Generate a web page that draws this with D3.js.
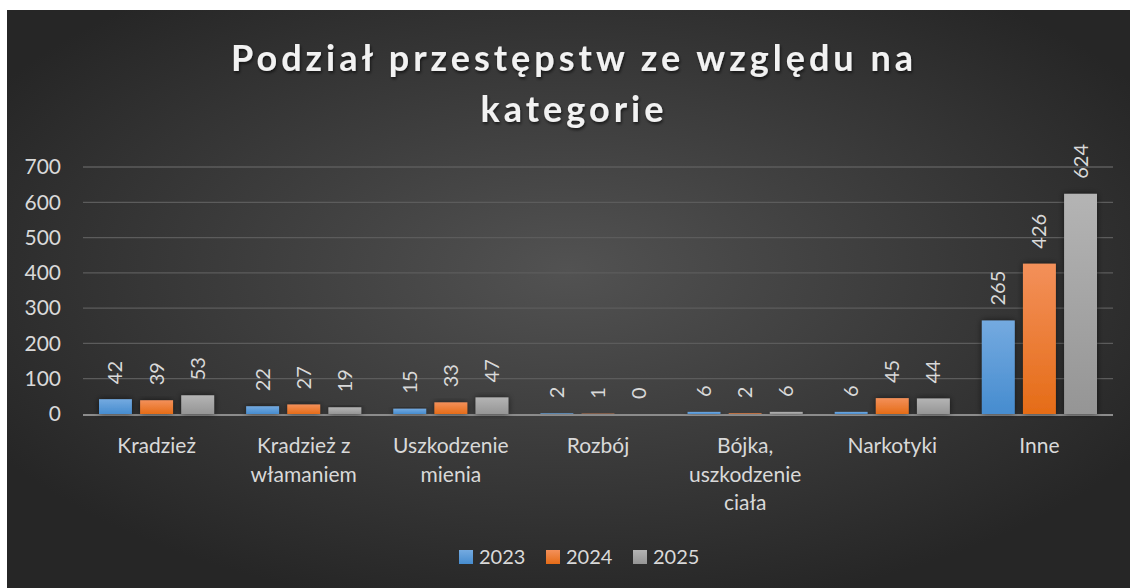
<!DOCTYPE html>
<html>
<head>
<meta charset="utf-8">
<script src="https://cdn.jsdelivr.net/npm/d3@7"></script>
<style>
  body { margin: 0; background: #fff; }
  text { font-family: Lato, "Open Sans", sans-serif; }
</style>
</head>
<body>
<div id="chart"></div>
<script>
// data
categories = ["Kradzież", "Kradzież z włamaniem", "Uszkodzenie mienia", "Rozbój", "Bójka, uszkodzenie ciała", "Narkotyki", "Inne"]
years = ["2023", "2024", "2025"]
v2023 = [42, 22, 15, 2, 6, 6, 265]
v2024 = [39, 27, 33, 1, 2, 45, 426]
v2025 = [53, 19, 47, 0, 6, 44, 624]
yTicks = [0, 100, 200, 300, 400, 500, 600, 700]
titleLines = ["Podział przestępstw ze względu na", "kategorie"]

series = [v2023, v2024, v2025]
colors = [
  {top: "#74aae0", bottom: "#468ccf"},
  {top: "#f3905a", bottom: "#e56c17"},
  {top: "#b4b4b4", bottom: "#959595"}
]

W = 1130, H = 588
margin = {top: 167, right: 17, bottom: 174, left: 83}
width = W - margin.left - margin.right
height = H - margin.top - margin.bottom

svg = d3.select("#chart").append("svg")
  .attr("width", W)
  .attr("height", H)

defs = svg.append("defs")
bg = defs.append("radialGradient").attr("id", "bg")
  .attr("cx", "50%").attr("cy", "45%").attr("r", "60%")
bg.append("stop").attr("offset", "0%").attr("stop-color", "#525252")
bg.append("stop").attr("offset", "100%").attr("stop-color", "#262626")

colors.forEach((c, i) => {
  g = defs.append("linearGradient").attr("id", "bar" + i)
    .attr("x1", 0).attr("y1", 0).attr("x2", 0).attr("y2", 1)
  g.append("stop").attr("offset", "0%").attr("stop-color", c.top)
  g.append("stop").attr("offset", "100%").attr("stop-color", c.bottom)
})

shadow = defs.append("filter").attr("id", "shadow")
  .attr("x", "-30%").attr("y", "-30%").attr("width", "160%").attr("height", "160%")
shadow.append("feDropShadow").attr("dx", 0).attr("dy", 0).attr("stdDeviation", 3)
  .attr("flood-color", "#000").attr("flood-opacity", 0.6)

tshadow = defs.append("filter").attr("id", "tshadow")
tshadow.append("feDropShadow").attr("dx", 1).attr("dy", 2).attr("stdDeviation", 1.5)
  .attr("flood-color", "#000").attr("flood-opacity", 0.6)

// background panel
svg.append("rect")
  .attr("x", 7).attr("y", 10)
  .attr("width", W - 7).attr("height", H - 10)
  .attr("fill", "url(#bg)")

// title
svg.append("g").attr("filter", "url(#tshadow)")
  .selectAll("text")
  .data(titleLines)
  .join("text")
    .attr("x", 574)
    .attr("y", (d, i) => 71 + i * 51)
    .attr("text-anchor", "middle")
    .attr("fill", "#f2f2f2")
    .style("font-size", "36px")
    .style("font-weight", "bold")
    .style("letter-spacing", "4px")
    .text(d => d)

chart = svg.append("g")
  .attr("transform", `translate(${margin.left}, ${margin.top})`)

// scales
x0 = d3.scaleBand().domain(categories).range([0, width]).paddingInner(0).paddingOuter(0)
x1 = d3.scaleBand().domain(years).range([16, x0.bandwidth() - 16]).paddingInner(0.2).paddingOuter(0)
y = d3.scaleLinear().domain([0, 700]).range([height, 0])

// gridlines
chart.append("g")
  .selectAll("line")
  .data(yTicks.filter(d => d > 0))
  .join("line")
    .attr("x1", 0).attr("x2", width)
    .attr("y1", d => y(d)).attr("y2", d => y(d))
    .attr("stroke", "#5c5c5c")
    .attr("stroke-width", 1.3)

// baseline (under the bars so tiny values still show)
chart.append("line")
  .attr("x1", 0).attr("x2", width)
  .attr("y1", height + 1).attr("y2", height + 1)
  .attr("stroke", "#8c8c8c")
  .attr("stroke-width", 2)

// y axis labels
yAxis = chart.append("g")
  .call(d3.axisLeft(y).tickValues(yTicks).tickSize(0).tickPadding(22))
yAxis.select(".domain").remove()
yAxis.selectAll("text")
  .attr("fill", "#d9d9d9")
  .style("font-size", "21px")
  .style("font-family", "Lato, sans-serif")

// bars
groups = chart.selectAll("g.cat")
  .data(categories)
  .join("g")
    .attr("class", "cat")
    .attr("transform", d => `translate(${x0(d)}, 0)`)

groups.selectAll("rect")
  .data((d, ci) => years.map((yr, si) => ({yr: yr, si: si, v: series[si][ci]})))
  .join("rect")
    .attr("x", d => x1(d.yr))
    .attr("y", d => y(d.v))
    .attr("width", x1.bandwidth())
    .attr("height", d => height - y(d.v))
    .attr("fill", d => `url(#bar${d.si})`)
    .attr("filter", "url(#shadow)")

// value labels, rotated
groups.selectAll("text.val")
  .data((d, ci) => years.map((yr, si) => ({yr: yr, si: si, v: series[si][ci]})))
  .join("text")
    .attr("class", "val")
    .attr("transform", d => `translate(${x1(d.yr) + x1.bandwidth() / 2}, ${y(d.v) - 15}) rotate(-90)`)
    .attr("dy", "0.35em")
    .attr("fill", "#d9d9d9")
    .style("font-size", "20px")
    .text(d => d.v)

// category labels with wrapping
function wrapLines(name, maxW) {
  words = name.split(" ")
  lines = []
  cur = ""
  tmp = svg.append("text").style("font-size", "21px")
  words.forEach(w => {
    test = cur ? cur + " " + w : w
    tmp.text(test)
    if (tmp.node().getComputedTextLength() > maxW && cur) {
      lines.push(cur)
      cur = w
    } else {
      cur = test
    }
  })
  lines.push(cur)
  tmp.remove()
  return lines
}

catLabels = chart.selectAll("text.cat")
  .data(categories)
  .join("text")
    .attr("class", "cat")
    .attr("text-anchor", "middle")
    .attr("fill", "#d9d9d9")
    .style("font-size", "21px")
    .attr("transform", d => `translate(${x0(d) + x0.bandwidth() / 2}, ${height + 39})`)

catLabels.each(function(d) {
  lines = wrapLines(d, 135)
  d3.select(this).selectAll("tspan")
    .data(lines)
    .join("tspan")
      .attr("x", 0)
      .attr("y", (l, i) => i * 28.5)
      .text(l => l)
})

// legend
legend = svg.append("g")
  .attr("transform", "translate(459, 557)")
legendItems = legend.selectAll("g")
  .data(years)
  .join("g")
    .attr("transform", (d, i) => `translate(${i * 87}, 0)`)
legendItems.append("rect")
  .attr("x", 0).attr("y", -7)
  .attr("width", 14).attr("height", 14)
  .attr("fill", (d, i) => `url(#bar${i})`)
legendItems.append("text")
  .attr("x", 20)
  .attr("dy", "0.35em")
  .attr("fill", "#d9d9d9")
  .style("font-size", "20px")
  .text(d => d)
</script>
</body>
</html>
